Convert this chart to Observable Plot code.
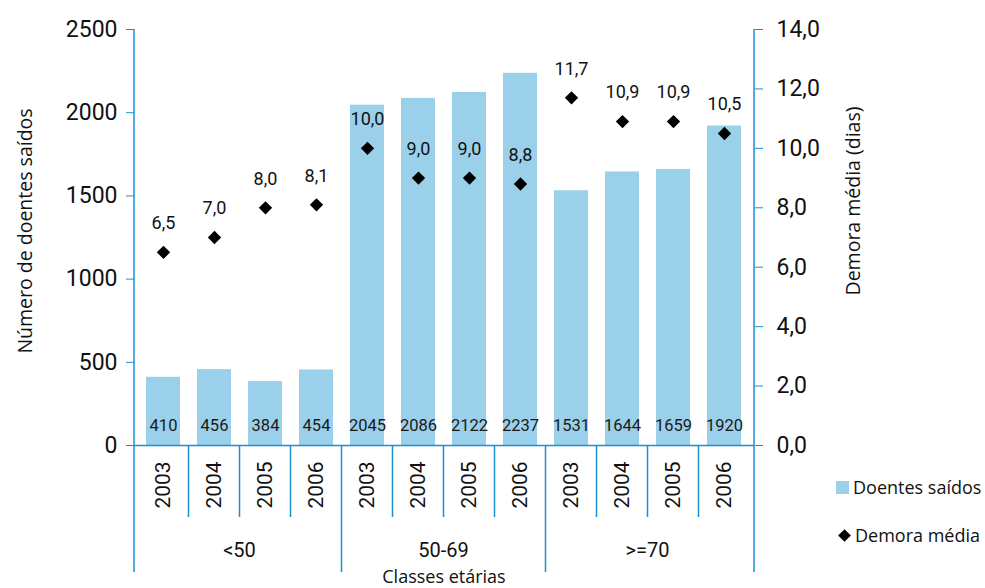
<!DOCTYPE html>
<html><head><meta charset="utf-8">
<script src="https://cdn.jsdelivr.net/npm/d3@7"></script>
<script src="https://cdn.jsdelivr.net/npm/@observablehq/plot@0.6"></script>
<style>
body{margin:0;background:#fff;font-family:Roboto,sans-serif;}
#wrap{position:relative;width:985px;height:588px;}
.leg{position:absolute;left:836px;font-family:"Open Sans",sans-serif;font-size:18px;color:#111;display:flex;align-items:center;white-space:nowrap;}
.sq{width:13px;height:13px;background:#9bd0ea;margin-right:4px;}
.dm{width:9px;height:9px;background:#000;transform:rotate(45deg);margin:0 6px 0 4px;}
</style></head><body><div id="wrap"></div>
<script>
const groups = ["<50", "50-69", ">=70"];
const years = ["2003", "2004", "2005", "2006"];
const doentes = [410, 456, 384, 454, 2045, 2086, 2122, 2237, 1531, 1644, 1659, 1920];
const demora = [6.5, 7.0, 8.0, 8.1, 10.0, 9.0, 9.0, 8.8, 11.7, 10.9, 10.9, 10.5];
const leftTicks = [0, 500, 1000, 1500, 2000, 2500];
const rightTicks = [0, 2, 4, 6, 8, 10, 12, 14];
const yMax = 2500, rMax = 14;
const k = yMax / rMax;
const blue = "#1b8fd2";
const barColor = "#9bd0ea";
const fmt = v => v.toFixed(1).replace(".", ",");

const rows = doentes.map((v, i) => ({
  key: groups[Math.floor(i / 4)] + "|" + years[i % 4],
  group: groups[Math.floor(i / 4)],
  year: years[i % 4],
  doentes: v,
  demora: demora[i]
}));

const plot = Plot.plot({
  width: 985, height: 588,
  marginLeft: 134, marginRight: 231, marginTop: 29, marginBottom: 143,
  style: {fontFamily: "Roboto, sans-serif", background: "white", overflow: "visible", color: "#111"},
  x: {type: "band", domain: rows.map(d => d.key), paddingInner: 0.33, paddingOuter: 0.165, axis: null},
  y: {domain: [0, yMax], axis: null},
  marks: [
    Plot.barY(rows, {x: "key", y: "doentes", fill: barColor}),
    Plot.text(rows, {x: "key", y: 0, text: d => String(d.doentes), dy: -20, fontSize: 16.5, fill: "#1a1a1a"}),
    Plot.dot(rows, {x: "key", y: d => d.demora * k, symbol: "diamond2", r: 6, fill: "#000", stroke: "none"}),
    Plot.text(rows, {x: "key", y: d => d.demora * k, text: d => fmt(d.demora), dy: -29, fontSize: 18, fill: "#111"}),
    Plot.ruleY([0], {stroke: blue, strokeWidth: 1.5}),
    Plot.axisY({ticks: leftTicks, tickSize: 8, tickPadding: 9, fontSize: 23, stroke: blue, fill: "#111", tickFormat: d => String(d), label: null}),
    Plot.axisY({anchor: "right", ticks: rightTicks.map(v => v * k), tickFormat: d => fmt(d / k), tickSize: 8, tickPadding: 14, fontSize: 23, stroke: blue, fill: "#111", label: null})
  ]
});

const xs = plot.scale("x"), ys = plot.scale("y");
const svg = d3.select(plot);
const step = xs.step, bw = xs.bandwidth;
const y0 = ys.apply(0), yTop = ys.apply(yMax);
const [xL, xR] = xs.range;
const g = svg.append("g").attr("font-family", "Roboto, sans-serif").attr("fill", "#111");
const line = (x1, y1, x2, y2) => g.append("line").attr("x1", x1).attr("x2", x2).attr("y1", y1).attr("y2", y2).attr("stroke", blue).attr("stroke-width", 1.5);
line(xL, yTop, xL, y0 + 127);
line(xR, yTop, xR, y0 + 127);
rows.forEach((d, i) => {
  const left = xs.apply(d.key) - (step - bw) / 2;
  if (i > 0) line(left, y0, left, y0 + (i % 4 === 0 ? 127 : 72));
  const cx = xs.apply(d.key) + bw / 2;
  g.append("text").attr("transform", `translate(${cx},${y0 + 40}) rotate(-90)`)
    .attr("text-anchor", "middle").attr("dominant-baseline", "central").attr("font-size", 21).text(d.year);
});
groups.forEach(gr => {
  const ks = rows.filter(d => d.group === gr).map(d => d.key);
  const a = xs.apply(ks[0]) - (step - bw) / 2;
  const b = xs.apply(ks[ks.length - 1]) + bw + (step - bw) / 2;
  g.append("text").attr("x", (a + b) / 2).attr("y", y0 + 105).attr("text-anchor", "middle")
    .attr("dominant-baseline", "central").attr("font-size", 20).text(gr);
});
const t = g.append("g").attr("font-family", "'Open Sans', sans-serif");
t.append("text").attr("x", (xL + xR) / 2).attr("y", y0 + 130.5).attr("text-anchor", "middle")
  .attr("dominant-baseline", "central").attr("font-size", 18).text("Classes etárias");
t.append("text").attr("transform", `translate(24,231) rotate(-90)`).attr("text-anchor", "middle")
  .attr("dominant-baseline", "central").attr("font-size", 19.5).text("Número de doentes saídos");
t.append("text").attr("transform", `translate(852,201) rotate(-90)`).attr("text-anchor", "middle")
  .attr("dominant-baseline", "central").attr("font-size", 19.5).text("Demora média (dias)");

const wrap = document.getElementById("wrap");
wrap.appendChild(plot);
const l1 = document.createElement("div");
l1.className = "leg"; l1.style.top = "475px";
l1.innerHTML = '<span class="sq"></span><span>Doentes saídos</span>';
const l2 = document.createElement("div");
l2.className = "leg"; l2.style.top = "523px";
l2.innerHTML = '<span class="dm"></span><span>Demora média</span>';
wrap.appendChild(l1); wrap.appendChild(l2);
</script></body></html>
